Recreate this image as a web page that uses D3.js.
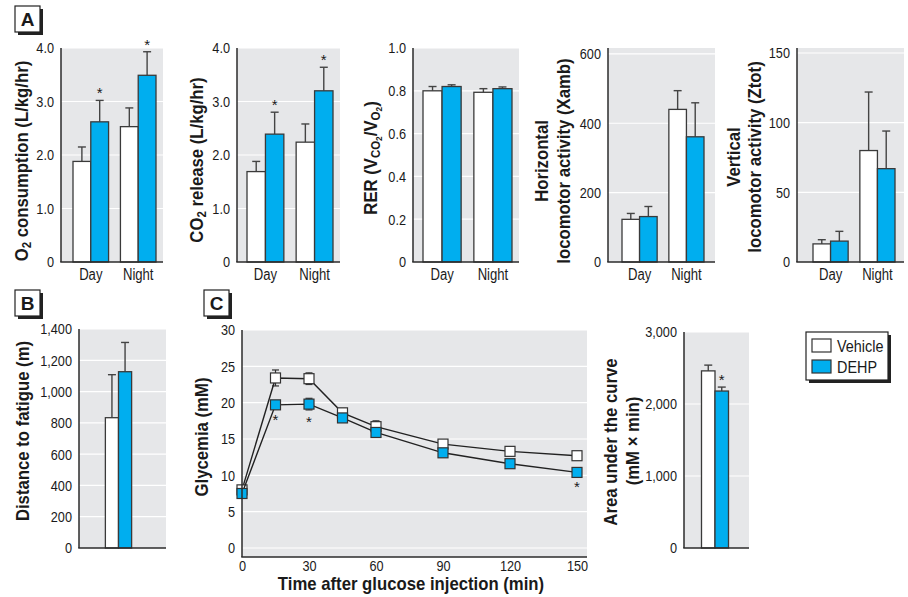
<!DOCTYPE html>
<html><head><meta charset="utf-8">
<script src="https://cdn.jsdelivr.net/npm/d3@7"></script>
<style>
body{margin:0;background:#fff}
svg{display:block}
text{font-family:'Liberation Sans',Arial,sans-serif;fill:#1a1a1a}
</style>
</head><body>
<svg id="chart" width="908" height="597"></svg>
<script>
// ---------- DATA ----------
const periods = ["Day", "Night"];
const seriesNames = ["Vehicle", "DEHP"];

const o2Vehicle = [1.88, 2.53], o2VehicleErr = [0.27, 0.35];
const o2Dehp = [2.62, 3.49], o2DehpErr = [0.40, 0.44];
const o2Stars = [[false, false], [true, true]];

const co2Vehicle = [1.69, 2.24], co2VehicleErr = [0.19, 0.34];
const co2Dehp = [2.39, 3.20], co2DehpErr = [0.41, 0.44];
const co2Stars = [[false, false], [true, true]];

const rerVehicle = [0.80, 0.793], rerVehicleErr = [0.02, 0.017];
const rerDehp = [0.82, 0.81], rerDehpErr = [0.008, 0.008];

const horizVehicle = [123, 440], horizVehicleErr = [17, 54];
const horizDehp = [131, 361], horizDehpErr = [29, 98];

const vertVehicle = [13, 80], vertVehicleErr = [3, 42];
const vertDehp = [15, 67], vertDehpErr = [7, 27];

const fatigueCats = ["all"];
const fatigueVehicle = [833], fatigueVehicleErr = [275];
const fatigueDehp = [1127], fatigueDehpErr = [187];

const aucVehicle = [2460], aucVehicleErr = [80];
const aucDehp = [2180], aucDehpErr = [55];
const aucStars = [[false], [true]];

const times = [0, 15, 30, 45, 60, 90, 120, 150];
const glyVehicle = [8.0, 23.4, 23.3, 18.6, 16.7, 14.3, 13.3, 12.7];
const glyVehicleErr = [0.3, 1.1, 0.8, 0.6, 0.8, 0.5, 0.6, 0.5];
const glyDehp = [7.5, 19.7, 19.8, 17.9, 15.9, 13.1, 11.6, 10.4];
const glyDehpErr = [0.3, 0.5, 0.8, 0.4, 0.4, 0.4, 0.4, 0.4];
const glyStars = [false, true, true, false, false, false, false, true];

const ticksO2 = [0, 1, 2, 3, 4];
const ticksRER = [0, 0.2, 0.4, 0.6, 0.8, 1.0];
const ticksHoriz = [0, 200, 400, 600];
const ticksVert = [0, 50, 100, 150];
const ticksFatigue = [0, 200, 400, 600, 800, 1000, 1200, 1400];
const ticksGly = [0, 5, 10, 15, 20, 25, 30];
const ticksTime = [0, 30, 60, 90, 120, 150];
const ticksAUC = [0, 1000, 2000, 3000];

// ---------- STYLE ----------
const BLUE = "#00aeef", BG = "#e6e7e9", INK = "#2b2b2b";
const colors = {Vehicle: "#ffffff", DEHP: BLUE};
const TICK = "15.5px", TITLE = 19;
const svg = d3.select("#chart");

const fmt1 = d => d === 0 ? "0" : d3.format(".1f")(d);
const fmtInt = d => String(d);
const fmtComma = d3.format(",");

// parts: array of [text, isSubscript, isSmall]
function yTitle(x, cy, parts) {
  const t = svg.append("text")
    .attr("transform", `translate(${x},${cy}) rotate(-90)`)
    .attr("text-anchor", "middle").attr("data-c", 0.88)
    .style("font-weight", "bold").style("font-size", TITLE + "px");
  parts.forEach(([s, sub, small]) => {
    const ts = t.append("tspan").text(s);
    if (sub) ts.attr("baseline-shift", small ? "-45%" : "-25%").style("font-size", small ? "9.5px" : "13px");
  });
  return t;
}

function barPanel(o) {
  const g = svg.append("g");
  const y = d3.scaleLinear().domain([0, o.max]).range([o.y1, o.y0]);
  const xg = d3.scaleBand().domain(o.cats).range([o.bx0, o.bx1]).paddingInner(0.25);
  const xs = d3.scaleBand().domain(seriesNames).range([0, xg.bandwidth()]);
  g.append("rect").attr("x", o.x0).attr("y", o.y0).attr("width", o.x1 - o.x0).attr("height", o.y1 - o.y0).attr("fill", BG);
  g.selectAll(".grid").data(o.ticks.filter(d => d > 0)).join("line")
    .attr("x1", o.x0).attr("x2", o.x1).attr("y1", d => y(d)).attr("y2", d => y(d))
    .attr("stroke", "#fff").attr("stroke-width", 1.2);
  const ax = g.append("g").attr("transform", `translate(${o.x0},0)`)
    .call(d3.axisLeft(y).tickValues(o.ticks).tickFormat(o.fmt).tickSize(0).tickPadding(7));
  ax.select(".domain").remove();
  ax.selectAll("text").style("font-size", TICK).attr("fill", "#222");
  if (o.showCats) {
    const bx = g.append("g").attr("transform", `translate(0,${o.y1})`)
      .call(d3.axisBottom(xg).tickSize(0).tickPadding(7));
    bx.select(".domain").remove();
    bx.selectAll("text").style("font-size", "16px").attr("fill", "#222");
  }
  o.series.forEach((s, si) => {
    const name = seriesNames[si];
    o.cats.forEach((c, ci) => {
      const bx = xg(c) + xs(name), w = xs.bandwidth(), cx = bx + w / 2;
      const v = s.vals[ci], e = s.errs[ci];
      g.append("line").attr("x1", cx).attr("x2", cx).attr("y1", y(v)).attr("y2", y(v + e))
        .attr("stroke", "#444").attr("stroke-width", 1.4);
      g.append("line").attr("x1", cx - 4).attr("x2", cx + 4).attr("y1", y(v + e)).attr("y2", y(v + e))
        .attr("stroke", "#444").attr("stroke-width", 1.4);
      g.append("rect").attr("x", bx).attr("y", y(v)).attr("width", w).attr("height", y(0) - y(v))
        .attr("fill", colors[name]).attr("stroke", "#3a3a3a").attr("stroke-width", 1.3);
      if (o.stars && o.stars[si][ci]) {
        g.append("text").attr("x", cx).attr("y", y(v + e) - 2).attr("text-anchor", "middle")
          .style("font-size", "15px").attr("fill", "#666").text("*");
      }
    });
  });
  g.append("line").attr("x1", o.x0).attr("x2", o.x0).attr("y1", o.y0).attr("y2", o.y1).attr("stroke", INK).attr("stroke-width", 1.5);
  g.append("line").attr("x1", o.x0 - 0.75).attr("x2", o.x1).attr("y1", o.y1).attr("y2", o.y1).attr("stroke", INK).attr("stroke-width", 1.5);
}

function panelLabel(x, y, letter) {
  svg.append("rect").attr("x", x + 3).attr("y", y + 3).attr("width", 25).attr("height", 26).attr("fill", "#222");
  svg.append("rect").attr("x", x).attr("y", y).attr("width", 25).attr("height", 26).attr("fill", "#fff").attr("stroke", "#222").attr("stroke-width", 1.2);
  svg.append("text").attr("x", x + 12.5).attr("y", y + 20).attr("text-anchor", "middle").attr("data-c", 1)
    .style("font-weight", "bold").style("font-size", "19px").text(letter);
}

// ---------- PANEL A ----------
panelLabel(15, 6, "A");
barPanel({x0: 61, x1: 163, y0: 48, y1: 262, bx0: 73, bx1: 156, max: 4, ticks: ticksO2, fmt: fmt1, cats: periods, showCats: true,
  series: [{vals: o2Vehicle, errs: o2VehicleErr}, {vals: o2Dehp, errs: o2DehpErr}], stars: o2Stars});
yTitle(28, 161, [["O"], ["2", true], [" consumption (L/kg/hr)"]]);

barPanel({x0: 237, x1: 340, y0: 48, y1: 262, bx0: 247, bx1: 333, max: 4, ticks: ticksO2, fmt: fmt1, cats: periods, showCats: true,
  series: [{vals: co2Vehicle, errs: co2VehicleErr}, {vals: co2Dehp, errs: co2DehpErr}], stars: co2Stars});
yTitle(203, 160, [["CO"], ["2", true], [" release (L/kg/hr)"]]);

barPanel({x0: 413, x1: 519, y0: 48, y1: 262, bx0: 423, bx1: 512, max: 1, ticks: ticksRER, fmt: fmt1, cats: periods, showCats: true,
  series: [{vals: rerVehicle, errs: rerVehicleErr}, {vals: rerDehp, errs: rerDehpErr}]});
yTitle(377, 158, [["RER (V"], ["CO", true], ["2", true, true], ["/V"], ["O", true], ["2", true, true], [")"]]);

barPanel({x0: 608, x1: 715, y0: 48, y1: 262, bx0: 622, bx1: 704, max: 617, ticks: ticksHoriz, fmt: fmtInt, cats: periods, showCats: true,
  series: [{vals: horizVehicle, errs: horizVehicleErr}, {vals: horizDehp, errs: horizDehpErr}]});
yTitle(548, 161, [["Horizontal"]]);
yTitle(570, 161, [["locomotor activity (Xamb)"]]);

barPanel({x0: 797, x1: 904, y0: 48, y1: 262, bx0: 813, bx1: 895, max: 153.6, ticks: ticksVert, fmt: fmtInt, cats: periods, showCats: true,
  series: [{vals: vertVehicle, errs: vertVehicleErr}, {vals: vertDehp, errs: vertDehpErr}]});
yTitle(740, 157, [["Vertical"]]);
yTitle(761, 157, [["locomotor activity (Ztot)"]]);

// ---------- PANEL B ----------
panelLabel(15, 290, "B");
barPanel({x0: 79, x1: 166, y0: 329, y1: 548, bx0: 101, bx1: 136, max: 1400, ticks: ticksFatigue, fmt: fmtComma, cats: fatigueCats, showCats: false,
  series: [{vals: fatigueVehicle, errs: fatigueVehicleErr}, {vals: fatigueDehp, errs: fatigueDehpErr}]});
yTitle(29, 431, [["Distance to fatigue (m)"]]);

// ---------- PANEL C (line) ----------
panelLabel(204, 290, "C");
{
  const x0 = 242, x1 = 587, y0 = 330, y1 = 557;
  const x = d3.scaleLinear().domain([0, 150]).range([242, 577]);
  const y = d3.scaleLinear().domain([0, 30]).range([548, 330]);
  const g = svg.append("g");
  g.append("rect").attr("x", x0).attr("y", y0).attr("width", x1 - x0).attr("height", y1 - y0).attr("fill", BG);
  g.selectAll(".grid").data(ticksGly).join("line")
    .attr("x1", x0).attr("x2", x1).attr("y1", d => y(d)).attr("y2", d => y(d))
    .attr("stroke", "#fff").attr("stroke-width", 1.2);
  const ay = g.append("g").attr("transform", `translate(${x0},0)`)
    .call(d3.axisLeft(y).tickValues(ticksGly).tickSize(0).tickPadding(7));
  ay.select(".domain").remove();
  ay.selectAll("text").style("font-size", TICK).attr("fill", "#222");
  const axb = g.append("g").attr("transform", `translate(0,${y1})`)
    .call(d3.axisBottom(x).tickValues(ticksTime).tickSize(0).tickPadding(3));
  axb.select(".domain").remove();
  axb.selectAll("text").style("font-size", TICK).attr("fill", "#222");

  const drawSeries = (vals, errs, fill) => {
    const pts = times.map((t, i) => ({t, v: vals[i], e: errs[i]}));
    const eg = g.append("g").attr("stroke", "#333").attr("stroke-width", 1.2);
    pts.forEach(p => {
      eg.append("line").attr("x1", x(p.t)).attr("x2", x(p.t)).attr("y1", y(p.v - p.e)).attr("y2", y(p.v + p.e));
      [p.v - p.e, p.v + p.e].forEach(vv => eg.append("line").attr("x1", x(p.t) - 3.5).attr("x2", x(p.t) + 3.5).attr("y1", y(vv)).attr("y2", y(vv)));
    });
    g.append("path").datum(pts).attr("fill", "none").attr("stroke", "#222").attr("stroke-width", 1.4)
      .attr("d", d3.line().x(p => x(p.t)).y(p => y(p.v)));
    g.selectAll(null).data(pts).join("rect")
      .attr("x", p => x(p.t) - 5).attr("y", p => y(p.v) - 5).attr("width", 10).attr("height", 10)
      .attr("fill", fill).attr("stroke", "#333").attr("stroke-width", 1.2);
  };
  drawSeries(glyVehicle, glyVehicleErr, "#fff");
  drawSeries(glyDehp, glyDehpErr, BLUE);
  times.forEach((t, i) => {
    if (glyStars[i]) g.append("text").attr("x", x(t)).attr("y", y(glyDehp[i] - glyDehpErr[i]) + 17)
      .attr("text-anchor", "middle").style("font-size", "15px").attr("fill", "#666").text("*");
  });
  g.append("line").attr("x1", x0).attr("x2", x0).attr("y1", y0).attr("y2", y1).attr("stroke", INK).attr("stroke-width", 1.5);
  g.append("line").attr("x1", x0 - 0.75).attr("x2", x1).attr("y1", y1).attr("y2", y1).attr("stroke", INK).attr("stroke-width", 1.5);
  yTitle(208, 437, [["Glycemia (mM)"]]);
  svg.append("text").attr("x", 411).attr("y", 590).attr("text-anchor", "middle").attr("data-c", 0.88)
    .style("font-weight", "bold").style("font-size", TITLE + "px").text("Time after glucose injection (min)");
}

// ---------- AUC ----------
barPanel({x0: 684, x1: 749, y0: 332, y1: 548, bx0: 697, bx1: 733, max: 3000, ticks: ticksAUC, fmt: fmtComma, cats: fatigueCats, showCats: false,
  series: [{vals: aucVehicle, errs: aucVehicleErr}, {vals: aucDehp, errs: aucDehpErr}], stars: aucStars});
yTitle(617, 442, [["Area under the curve"]]);
yTitle(639, 441, [["(mM × min)"]]);

// ---------- LEGEND ----------
{
  const lx = 806, ly = 332, lw = 82, lh = 48;
  svg.append("rect").attr("x", lx + 3).attr("y", ly + 3).attr("width", lw).attr("height", lh).attr("fill", "#222");
  svg.append("rect").attr("x", lx).attr("y", ly).attr("width", lw).attr("height", lh).attr("fill", "#fff").attr("stroke", "#222").attr("stroke-width", 1.2);
  seriesNames.forEach((n, i) => {
    svg.append("rect").attr("x", lx + 6).attr("y", ly + 7 + i * 21).attr("width", 19).attr("height", 13)
      .attr("fill", colors[n]).attr("stroke", "#333").attr("stroke-width", 1.2);
    svg.append("text").attr("x", lx + 31).attr("y", ly + 19.5 + i * 21).attr("data-c", 0.9).style("font-size", "16px").text(n);
  });
}

// ---------- condensed look: compress glyphs along the text direction ----------
svg.selectAll("text").each(function () {
  if (this.textContent === "*") return;
  const c = this.hasAttribute("data-c") ? +this.getAttribute("data-c") : 0.82;
  if (c === 1) return;
  const L = this.getComputedTextLength();
  d3.select(this).attr("textLength", (L * c).toFixed(1)).attr("lengthAdjust", "spacingAndGlyphs");
});
</script>
</body></html>
